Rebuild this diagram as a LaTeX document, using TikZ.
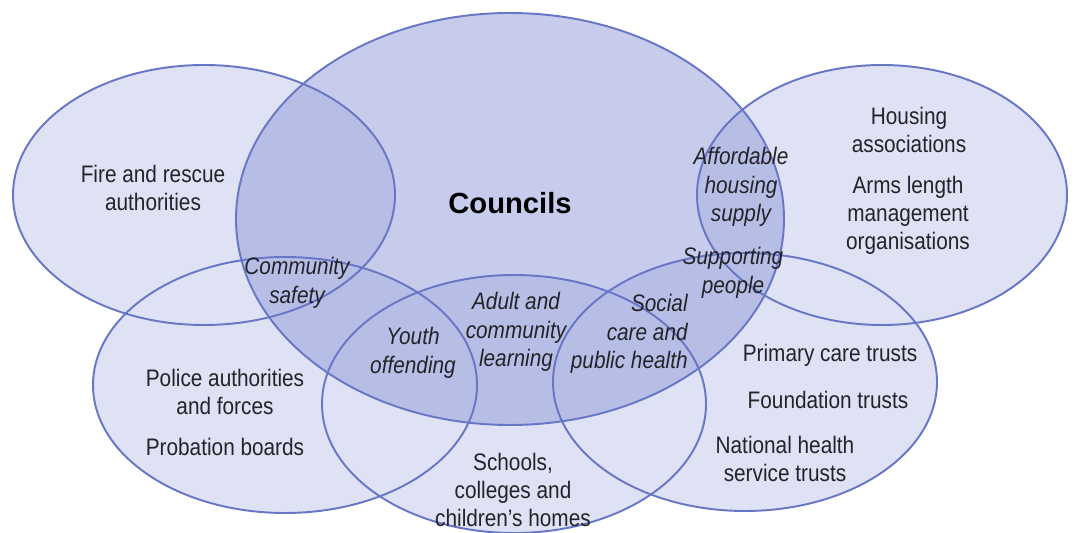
\documentclass[tikz,border=0pt]{standalone}
\usepackage{fontspec}
\setmainfont{Liberation Sans}[FakeStretch=0.87]
\newfontfamily\councilfont{Liberation Sans}
\usepackage{tikz}

\definecolor{setline}{RGB}{104,118,198}
\definecolor{setfill}{RGB}{223,226,244}
\definecolor{councilfill}{RGB}{145,155,218}
\definecolor{settextcol}{RGB}{35,35,40}

\tikzset{
  settext/.style={align=center,text=settextcol,font=\fontsize{13.6}{15.9}\selectfont,inner sep=0pt},
  linktext/.style={settext,font=\fontsize{13.6}{16.2}\selectfont\itshape},
  setedge/.style={draw=setline,line width=1.1pt}
}

\begin{document}
\begin{tikzpicture}[x=0.02cm,y=-0.02cm]
\useasboundingbox[fill=white] (0,0) rectangle (1078,533);
% partner sets
\fill[setfill] (204,195) ellipse [x radius=191, y radius=130];
\fill[setfill] (882,195) ellipse [x radius=185, y radius=130];
\fill[setfill] (285,385) ellipse [x radius=192, y radius=128];
\fill[setfill] (514,404) ellipse [x radius=192, y radius=129];
\fill[setfill] (745,382) ellipse [x radius=192, y radius=129];
% councils on top
\fill[councilfill,fill opacity=0.5] (510,219) ellipse [x radius=274, y radius=206];
% outlines
\draw[setedge] (204,195) ellipse [x radius=191, y radius=130];
\draw[setedge] (882,195) ellipse [x radius=185, y radius=130];
\draw[setedge] (285,385) ellipse [x radius=192, y radius=128];
\draw[setedge] (514,404) ellipse [x radius=192, y radius=129];
\draw[setedge] (745,382) ellipse [x radius=192, y radius=129];
\draw[setedge] (510,219) ellipse [x radius=274, y radius=206];

\node (councils) at (510,203) [inner sep=0pt,text=black,font=\councilfont\fontsize{16.6}{18}\selectfont\bfseries] {Councils};
\node (fire) at (153,188) [settext] {Fire and rescue\\authorities};
\node (housing) at (909,130) [settext] {Housing\\associations};
\node (arms) at (908,215) [settext] {Arms length\\management\\organisations};
\node (police) at (225,392) [settext] {Police authorities\\and forces};
\node (probation) at (225,447) [settext] {Probation boards};
\node (schools) at (513,490) [settext] {Schools,\\colleges and\\children's homes};
\node (primary) at (830,355) [settext] {Primary care trusts};
\node (foundation) at (828,400) [settext] {Foundation trusts};
\node (national) at (785,459) [settext] {National health\\service trusts};

\node (afford) at (741,187) [linktext] {Affordable\\housing\\supply};
\node (support) at (733,273) [linktext] {Supporting\\people};
\node (community) at (297,283) [linktext] {Community\\safety};
\node (youth) at (413,353) [linktext] {Youth\\offending};
\node (adult) at (516,332) [linktext] {Adult and\\community\\learning};
\node (social) at (688,334) [linktext,align=right,anchor=east] {Social\\care and\\public health};
\end{tikzpicture}
\end{document}
